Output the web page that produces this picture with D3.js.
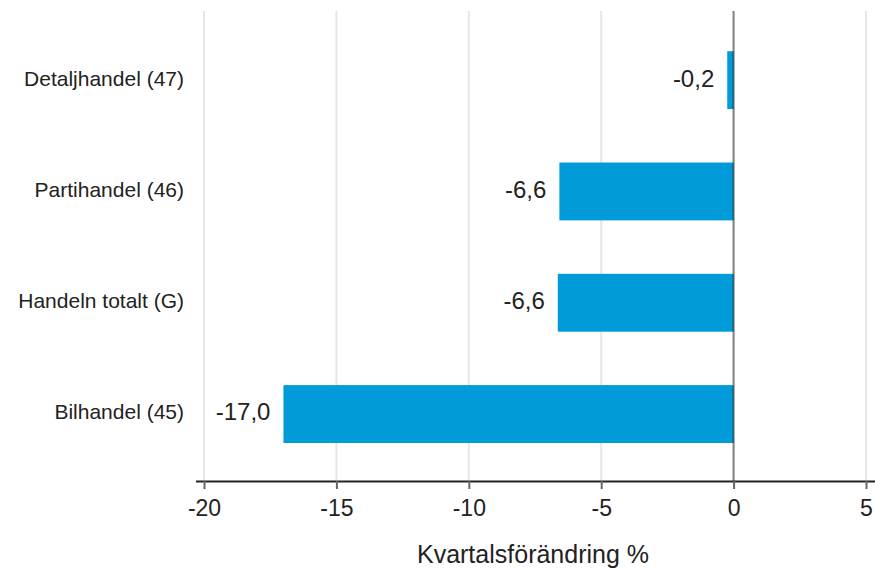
<!DOCTYPE html>
<html>
<head>
<meta charset="utf-8">
<script src="https://cdn.jsdelivr.net/npm/d3@7"></script>
<style>
  body { margin: 0; background: #fff; }
  text { font-family: "Liberation Sans", Arial, sans-serif; fill: #222; }
</style>
</head>
<body>
<div id="chart"></div>
<script>
// Data
var categories = ["Detaljhandel (47)", "Partihandel (46)", "Handeln totalt (G)", "Bilhandel (45)"];
var values = [-0.24, -6.58, -6.64, -17.0];
var valueLabels = ["-0,2", "-6,6", "-6,6", "-17,0"];
var xTicks = [-20, -15, -10, -5, 0, 5];
var xTitle = "Kvartalsförändring %";

var width = 875, height = 570;

var svg = d3.select("#chart").append("svg")
    .attr("width", width)
    .attr("height", height);

// Scales
var x = d3.scaleLinear()
    .domain([-20, 5])
    .range([204, 866]);

var y = d3.scaleBand()
    .domain(categories)
    .range([24.5, 469.7])
    .paddingInner(0.48)
    .paddingOuter(0.24);

var plotTop = 11, plotBottom = 481;

// Grid lines
svg.append("g").selectAll("line")
    .data(xTicks.filter(function(d) { return d !== 0; }))
    .enter().append("line")
    .attr("x1", function(d) { return x(d); })
    .attr("x2", function(d) { return x(d); })
    .attr("y1", plotTop)
    .attr("y2", plotBottom)
    .attr("stroke", "#e6e6e6")
    .attr("stroke-width", 2);

// Bars
svg.append("g").selectAll("rect")
    .data(values)
    .enter().append("rect")
    .attr("x", function(d) { return x(Math.min(0, d)); })
    .attr("y", function(d, i) { return y(categories[i]); })
    .attr("width", function(d) { return Math.abs(x(d) - x(0)); })
    .attr("height", y.bandwidth())
    .attr("fill", "#009bd8");

// Zero line
svg.append("line")
    .attr("x1", x(0))
    .attr("x2", x(0))
    .attr("y1", plotTop)
    .attr("y2", plotBottom)
    .attr("stroke", "rgba(0,0,0,0.5)")
    .attr("stroke-width", 2);

// Value labels
svg.append("g").selectAll("text")
    .data(values)
    .enter().append("text")
    .attr("x", function(d) { return x(Math.min(0, d)) - 13; })
    .attr("y", function(d, i) { return y(categories[i]) + y.bandwidth() / 2 - 2; })
    .attr("dy", "0.35em")
    .attr("text-anchor", "end")
    .style("font-size", "24px")
    .text(function(d, i) { return valueLabels[i]; });

// Category labels
svg.append("g").selectAll("text")
    .data(categories)
    .enter().append("text")
    .attr("x", 184)
    .attr("y", function(d) { return y(d) + y.bandwidth() / 2 - 2; })
    .attr("dy", "0.35em")
    .attr("text-anchor", "end")
    .style("font-size", "21px")
    .text(function(d) { return d; });

// X axis
var xAxis = svg.append("g")
    .attr("transform", "translate(0," + plotBottom + ")")
    .call(d3.axisBottom(x).tickValues(xTicks).tickSize(8).tickSizeOuter(0)
        .tickFormat(function(d) { return d; }));

xAxis.select(".domain")
    .attr("d", "M196,0.5H875")
    .attr("stroke", "#222")
    .attr("stroke-width", 2);
xAxis.selectAll(".tick line")
    .attr("stroke", "#666")
    .attr("stroke-width", 2);
xAxis.selectAll(".tick text")
    .attr("y", 19)
    .style("font-size", "23px")
    .style("font-family", "'Liberation Sans', Arial, sans-serif")
    .attr("fill", "#222");

// Axis title
svg.append("text")
    .attr("x", 533)
    .attr("y", 563)
    .attr("text-anchor", "middle")
    .style("font-size", "25px")
    .text(xTitle);
</script>
</body>
</html>
